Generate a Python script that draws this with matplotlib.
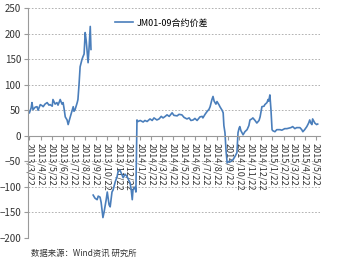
import datetime as dt
import numpy as np
import matplotlib
matplotlib.use("Agg")
import matplotlib.pyplot as plt

plt.rcParams['font.family'] = ['Noto Sans CJK SC', 'DejaVu Sans']

# JM01-09 spread (None = gap in the series)
dates = [
    # 2013 spring / summer
    "2013-03-22", "2013-03-27", "2013-03-29", "2013-04-01", "2013-04-07", "2013-04-12",
    "2013-04-15", "2013-04-21", "2013-04-26", "2013-04-29", "2013-05-04", "2013-05-10",
    "2013-05-15", "2013-05-18", "2013-05-24", "2013-05-26", "2013-06-01", "2013-06-06",
    "2013-06-09", "2013-06-15", "2013-06-20", "2013-06-23", "2013-06-26", "2013-06-29",
    "2013-07-04", "2013-07-07", "2013-07-10", "2013-07-12", "2013-07-18", "2013-07-21",
    "2013-07-23", "2013-07-26", "2013-08-01", "2013-08-03", "2013-08-06", "2013-08-09",
    "2013-08-14", "2013-08-17", "2013-08-20", "2013-08-23", "2013-08-26", "2013-08-28",
    "2013-08-31", "2013-09-03", "2013-09-06", "2013-09-08", "2013-09-11",
    # autumn 2013, negative spread
    "2013-09-14", "2013-09-19", "2013-09-25", "2013-09-28", "2013-10-03", "2013-10-06",
    "2013-10-11", "2013-10-14", "2013-10-20", "2013-10-23", "2013-10-28", "2013-10-31",
    "2013-11-05", "2013-11-08", "2013-11-14", "2013-11-19", "2013-11-22", "2013-11-27",
    "2013-11-30", "2013-12-06", "2013-12-11", "2013-12-17", "2013-12-22", "2013-12-25",
    "2013-12-28", "2013-12-31", "2014-01-02", "2014-01-08", "2014-01-10",
    # 2014 onwards
    "2014-01-13", "2014-01-16", "2014-01-22", "2014-01-30", "2014-02-04", "2014-02-10",
    "2014-02-18", "2014-02-24", "2014-03-01", "2014-03-09", "2014-03-15", "2014-03-21",
    "2014-03-26", "2014-04-01", "2014-04-06", "2014-04-12", "2014-04-20", "2014-04-25",
    "2014-05-04", "2014-05-09", "2014-05-17", "2014-05-23", "2014-05-31", "2014-06-06",
    "2014-06-11", "2014-06-17", "2014-06-22", "2014-06-28", "2014-07-06", "2014-07-12",
    "2014-07-14", "2014-07-20", "2014-07-25", "2014-07-31", "2014-08-03", "2014-08-08",
    "2014-08-11", "2014-08-14", "2014-08-19", "2014-08-22", "2014-08-28", "2014-08-30",
    "2014-09-05", "2014-09-08", "2014-09-10", "2014-09-13", "2014-09-16", "2014-09-19",
    "2014-09-24", "2014-09-27", "2014-10-02", "2014-10-05", "2014-10-11", "2014-10-16",
    "2014-10-19", "2014-10-22", "2014-10-24", "2014-10-27", "2014-10-30", "2014-11-02",
    "2014-11-07", "2014-11-13", "2014-11-18", "2014-11-21", "2014-11-26", "2014-11-29",
    "2014-12-05", "2014-12-10", "2014-12-16", "2014-12-19", "2014-12-21", "2014-12-24",
    "2014-12-30", "2015-01-01", "2015-01-07", "2015-01-10", "2015-01-12", "2015-01-15",
    "2015-01-18", "2015-01-21", "2015-01-23", "2015-01-29", "2015-02-03", "2015-02-12",
    "2015-02-17", "2015-02-25", "2015-03-03", "2015-03-08", "2015-03-14", "2015-03-19",
    "2015-03-25", "2015-03-30", "2015-04-08", "2015-04-13", "2015-04-16", "2015-04-21",
    "2015-04-27", "2015-05-02", "2015-05-05", "2015-05-08", "2015-05-11", "2015-05-13",
    "2015-05-19", "2015-05-24", "2015-05-27",
]
spread = [
    45, 55, 65, 51, 56, 57,
    50, 61, 59, 57, 62, 65,
    60, 61, 58, 71, 62, 65,
    60, 71, 62, 65, 52, 37,
    31, 22, 30, 35, 50, 57,
    48, 51, 65, 71, 100, 135,
    149, 155, 160, 202, 185, 169,
    143, 175, 214, 169, None,
    -116, -122, -125, -118, -120, -130,
    -160, -150, -125, -110, -135, -139,
    -110, -106, -90, -80, -70, -67,
    -72, -82, -75, -80, -88, -92,
    -105, -125, -106, -100, -110,
    31, 28, 30, 27, 30, 28,
    33, 30, 35, 31, 33, 38,
    35, 38, 41, 38, 45, 40,
    39, 42, 41, 36, 33, 35,
    30, 31, 34, 30, 37, 38,
    35, 42, 47, 52, 57, 71,
    77, 68, 62, 67, 60, 57,
    50, 45, 20, 6, -30, -53,
    -50, -51, -48, -47, -40, -33,
    6, 15, 18, 10, 6, 2,
    8, 12, 20, 31, 33, 35,
    30, 25, 30, 37, 45, 57,
    58, 61, 65, 71, 68, 80,
    51, 12, 10, 8, 12, 12,
    11, 14, 14, 15, 16, 18,
    14, 16, 16, 12, 8, 12,
    18, 25, 31, 25, 22, 33,
    25, 22, 23,
]

x = [dt.datetime.strptime(d, "%Y-%m-%d") for d in dates]
y = np.array([np.nan if v is None else v for v in spread], dtype=float)

# monthly ticks on the 22nd
tick_dates = []
yr, mo = 2013, 3
while (yr, mo) <= (2015, 5):
    tick_dates.append(dt.datetime(yr, mo, 22))
    mo += 1
    if mo > 12:
        mo, yr = 1, yr + 1
tick_labels = [f"{d.year}/{d.month}/{d.day}" for d in tick_dates]

fig = plt.figure(figsize=(3.41, 2.59), dpi=100)
ax = fig.add_axes([0.082, 0.081, 0.856, 0.888])

ax.plot(x, y, color="#4a7ebb", linewidth=1.2, label="JM01-09合约价差")

ax.set_ylim(-200, 250)
ax.set_yticks(range(-200, 251, 50))
ax.set_xlim(dt.datetime(2013, 3, 18), dt.datetime(2015, 6, 2))
ax.set_xticks(tick_dates)
ax.set_xticklabels(tick_labels)
ax.tick_params(axis="x", labelrotation=-90, labelsize=6.5, labelcolor="#333333",
               direction="out", length=3, color="#9a9a9a", pad=2)
ax.tick_params(axis="y", length=3, color="#9a9a9a", labelsize=7, labelcolor="#333333", pad=2)

ax.grid(axis="y", linestyle=(0, (2, 2)), color="#a6a6a6", linewidth=0.6)
ax.grid(axis="x", visible=False)

for s in ["top", "right"]:
    ax.spines[s].set_visible(False)
ax.spines["bottom"].set_position(("data", 0))
ax.spines["bottom"].set_color("#9a9a9a")
ax.spines["left"].set_color("#9a9a9a")

ax.legend(loc="upper left", bbox_to_anchor=(0.27, 0.99), frameon=False,
          fontsize=6.5, handlelength=2.0, handletextpad=0.4)

fig.text(0.09, 0.006, "数据来源：Wind资讯 研究所", fontsize=6, va="bottom", color="#333333")

fig.savefig("out.png", dpi=100)
